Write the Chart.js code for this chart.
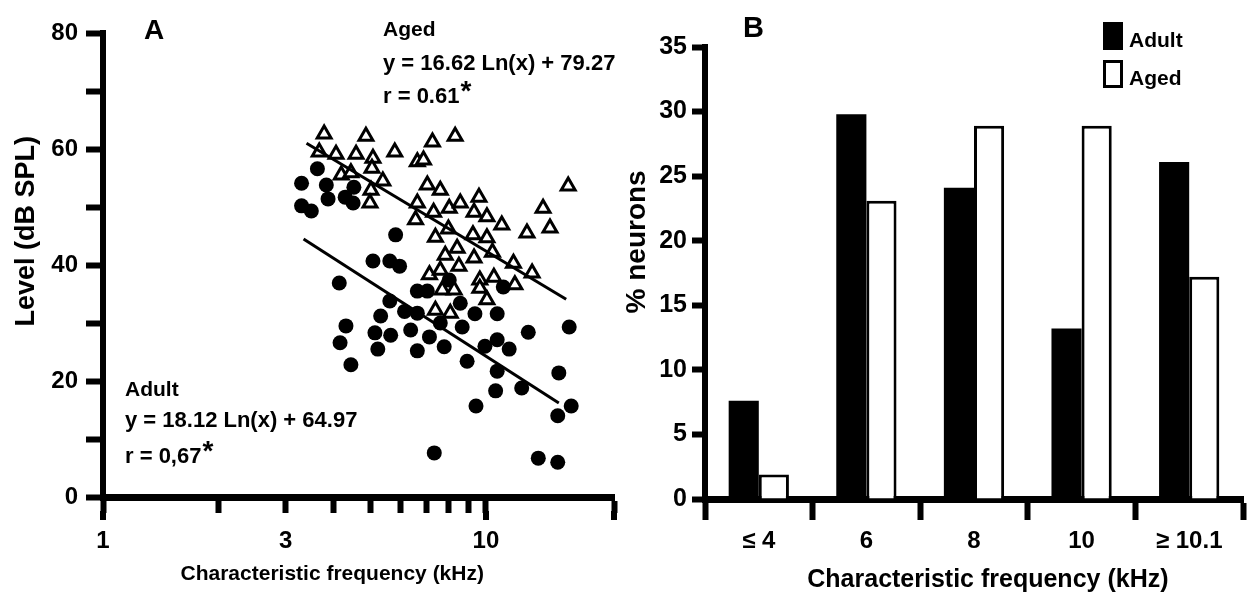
<!DOCTYPE html>
<html>
<head>
<title>Level and CF distribution</title>
<script src="https://cdn.jsdelivr.net/npm/chart.js"></script>
<style>
  body { margin: 0; background: #fff; }
  #wrap { position: relative; width: 1256px; height: 601px; }
  canvas { position: absolute; top: 0; }
  #chartA { left: 0; }
  #chartB { left: 620px; }
</style>
</head>
<body>
<div id="wrap">
  <canvas id="chartA" width="628" height="601"></canvas>
  <canvas id="chartB" width="636" height="601"></canvas>
</div>
<script>
// panel A: threshold level vs characteristic frequency
var adultCF = [3.30, 3.30, 3.50, 3.63, 3.83, 3.87, 4.29, 4.52, 4.50, 5.81,
  5.07, 5.61, 5.95, 4.14, 5.61, 6.62, 7.03, 8.02, 8.57, 6.13,
  6.62, 5.31, 7.60, 9.36, 10.7, 11.1, 4.31, 5.13, 5.64, 6.36,
  7.12, 8.67, 4.16, 5.22, 6.62, 7.78, 9.94, 10.7, 11.5, 12.9,
  16.5, 4.44, 8.93, 10.7, 15.5, 10.6, 12.4, 9.42, 16.7, 15.4,
  7.33, 13.7, 15.4];
var adultLevel = [54.1, 50.2, 49.3, 56.6, 53.8, 51.4, 51.7, 53.4, 50.7, 45.2,
  40.7, 40.7, 39.8, 36.9, 33.8, 35.5, 35.5, 37.4, 33.4, 32.0,
  31.7, 31.2, 30.0, 31.6, 31.6, 36.2, 29.5, 28.3, 27.9, 28.8,
  27.6, 29.3, 26.6, 25.5, 25.2, 25.9, 26.0, 27.1, 25.5, 28.4,
  29.3, 22.8, 23.4, 21.7, 21.4, 18.3, 18.8, 15.7, 15.7, 14.0,
  7.6, 6.7, 6.0];
var agedCF = [3.78, 4.86, 7.25, 8.31, 5.78, 3.67, 4.06, 4.58, 5.07, 6.62,
  6.87, 4.19, 4.44, 5.04, 5.38, 5.01, 4.98, 7.03, 7.60, 9.59,
  16.4, 6.62, 7.30, 8.02, 8.57, 9.31, 10.06, 14.1, 6.55, 11.0,
  12.8, 14.7, 7.98, 7.38, 9.25, 10.06, 10.4, 8.41, 7.83, 9.31,
  11.8, 13.2, 8.50, 7.12, 7.60, 9.64, 10.49, 11.9, 7.69, 8.26,
  9.64, 10.06, 7.38, 8.07];
var agedLevel = [62.6, 62.2, 61.2, 62.2, 59.5, 59.5, 59.1, 59.1, 58.4, 57.8,
  58.1, 55.5, 55.9, 56.7, 54.5, 52.9, 50.7, 53.8, 52.9, 51.7,
  53.6, 50.7, 49.1, 49.8, 50.7, 49.1, 48.3, 49.8, 47.8, 46.9,
  45.5, 46.4, 46.2, 44.8, 45.2, 44.7, 42.2, 42.9, 41.7, 41.2,
  40.3, 38.6, 39.8, 38.3, 39.1, 37.4, 37.9, 36.6, 35.7, 35.7,
  36.0, 34.0, 32.2, 31.7];
var adultFitCF = [3.34, 15.5];
var adultFitLevel = [44.5, 16.2];
var agedFitCF = [3.4, 16.2];
var agedFitLevel = [61.0, 34.1];
var xTicksA = [1, 2, 3, 4, 5, 6, 7, 8, 9, 10, 21.6];
var xLabelsA = [1, 3, 10];
var xMajorA = [1, 10, 21.6];

// panel B: % neurons per CF bin
var bins = ['\u2264 4', '6', '8', '10', '\u2265 10.1'];
var adultPct = [7.6, 29.8, 24.1, 13.2, 26.1];
var agedPct = [1.9, 23.1, 28.9, 28.9, 17.2];

var FONT = "'Liberation Sans', Arial, sans-serif";
Chart.defaults.font.family = FONT;
Chart.defaults.font.weight = 'bold';
Chart.defaults.color = '#000';

function pts(xs, ys) {
  return xs.map(function (x, i) { return { x: x, y: ys[i] }; });
}

// free text on the panels (panel letters, regression equations, legend)
var notes = {
  id: 'notes',
  afterDraw: function (chart, args, opts) {
    var ctx = chart.ctx;
    ctx.save();
    ctx.fillStyle = '#000';
    ctx.textBaseline = 'middle';
    (opts.items || []).forEach(function (t) {
      ctx.font = 'bold ' + t.size + 'px ' + FONT;
      ctx.fillText(t.text, t.x, t.y);
      if (t.star) {
        var w = ctx.measureText(t.text).width;
        ctx.font = 'bold ' + (t.size + 6) + 'px ' + FONT;
        ctx.fillText('*', t.x + w + 1, t.y - 5);
      }
    });
    ctx.restore();
  }
};

// longer tick marks at the decades of the log axis
var majorTicks = {
  id: 'majorTicks',
  afterDraw: function (chart) {
    var s = chart.scales.x, ctx = chart.ctx;
    ctx.save();
    ctx.fillStyle = '#000';
    xMajorA.forEach(function (v) {
      var px = s.getPixelForValue(v);
      ctx.fillRect(Math.round(px) - 3, s.top + 14, 6, 9);
    });
    ctx.restore();
  }
};

var boxLegend = {
  id: 'boxLegend',
  afterDraw: function (chart) {
    var ctx = chart.ctx;
    ctx.save();
    chart.data.datasets.forEach(function (d, i) {
      var y = 22 + i * 38;
      ctx.fillStyle = d.backgroundColor;
      ctx.fillRect(483, y, 20, 28);
      if (d.borderWidth) {
        ctx.strokeStyle = d.borderColor;
        ctx.lineWidth = 3;
        ctx.strokeRect(484.5, y + 1.5, 17, 25);
      }
      ctx.fillStyle = '#000';
      ctx.font = 'bold 21px ' + FONT;
      ctx.textBaseline = 'alphabetic';
      ctx.fillText(d.label, 509, y + 25);
    });
    ctx.restore();
  }
};

new Chart(document.getElementById('chartA'), {
  type: 'scatter',
  data: {
    datasets: [
      { type: 'line', data: pts(agedFitCF, agedFitLevel), borderColor: '#000', borderWidth: 3, pointRadius: 0, fill: false, order: 0 },
      { type: 'line', data: pts(adultFitCF, adultFitLevel), borderColor: '#000', borderWidth: 3, pointRadius: 0, fill: false, order: 0 },
      { label: 'Aged', data: pts(agedCF, agedLevel), pointStyle: 'triangle', pointRadius: 8,
        backgroundColor: '#fff', borderColor: '#000', borderWidth: 3, order: 1 },
      { label: 'Adult', data: pts(adultCF, adultLevel), pointStyle: 'circle', pointRadius: 7.5,
        backgroundColor: '#000', borderColor: '#000', borderWidth: 0, order: 2 }
    ]
  },
  options: {
    responsive: false,
    animation: false,
    layout: { padding: { top: 33, right: 10, left: 0, bottom: 0 } },
    plugins: {
      legend: { display: false },
      tooltip: { enabled: false },
      notes: {
        items: [
          { text: 'A', x: 144, y: 31, size: 28 },
          { text: 'Aged', x: 383, y: 30, size: 21 },
          { text: 'y = 16.62 Ln(x) + 79.27', x: 383, y: 64, size: 22 },
          { text: 'r = 0.61', x: 383, y: 97, size: 22, star: true },
          { text: 'Adult', x: 125, y: 390, size: 21 },
          { text: 'y = 18.12 Ln(x) + 64.97', x: 125, y: 421, size: 22 },
          { text: 'r = 0,67', x: 125, y: 457, size: 22, star: true }
        ]
      }
    },
    scales: {
      x: {
        type: 'logarithmic',
        min: 1,
        max: 21.6,
        afterFit: function (s) { s.height = 104; },
        afterBuildTicks: function (s) { s.ticks = xTicksA.map(function (v) { return { value: v }; }); },
        border: { display: true, color: '#000', width: 7 },
        grid: { drawOnChartArea: false, drawTicks: true, tickLength: 16, tickWidth: 6, tickColor: '#000' },
        ticks: {
          autoSkip: false, maxRotation: 0, padding: 14,
          font: { size: 24, weight: 'bold' },
          callback: function (v) { return xLabelsA.indexOf(v) >= 0 ? String(v) : ''; }
        },
        title: { display: true, text: 'Characteristic frequency (kHz)         ',
          font: { size: 21, weight: 'bold', lineHeight: 1 }, padding: { top: 0, bottom: 16 } }
      },
      y: {
        min: 0,
        max: 80,
        afterFit: function (s) { s.width = 103; },
        border: { display: true, color: '#000', width: 6 },
        grid: { drawOnChartArea: false, drawTicks: true, tickLength: 17, tickWidth: 6, tickColor: '#000' },
        ticks: {
          stepSize: 10, padding: 8,
          font: { size: 24, weight: 'bold' },
          callback: function (v) { return v % 20 === 0 ? String(v) : ''; }
        },
        title: { display: true, text: '         Level (dB SPL)',
          font: { size: 27, weight: 'bold', lineHeight: 1 }, padding: { top: 13, bottom: 0 } }
      }
    }
  },
  plugins: [notes, majorTicks]
});

new Chart(document.getElementById('chartB'), {
  type: 'bar',
  data: {
    labels: bins,
    datasets: [
      { label: 'Adult', data: adultPct, backgroundColor: '#000', borderWidth: 0,
        categoryPercentage: 0.56, barPercentage: 1.0 },
      { label: 'Aged', data: agedPct, backgroundColor: '#fff', borderColor: '#000', borderWidth: 3,
        borderSkipped: 'bottom', categoryPercentage: 0.56, barPercentage: 1.0 }
    ]
  },
  options: {
    responsive: false,
    animation: false,
    layout: { padding: { top: 47, right: 13, left: 0, bottom: 0 } },
    plugins: {
      legend: { display: false },
      tooltip: { enabled: false },
      notes: { items: [{ text: 'B', x: 123, y: 29, size: 29 }] }
    },
    scales: {
      x: {
        afterFit: function (s) { s.height = 102; },
        border: { display: true, color: '#000', width: 7 },
        grid: { offset: true, drawOnChartArea: false, drawTicks: true, tickLength: 21, tickWidth: 6, tickColor: '#000' },
        ticks: { padding: 7, maxRotation: 0, font: { size: 24, weight: 'bold' } },
        title: { display: true, text: '    Characteristic frequency (kHz)',
          font: { size: 25, weight: 'bold', lineHeight: 1 }, padding: { top: 0, bottom: 8 } }
      },
      y: {
        min: 0,
        max: 35,
        afterFit: function (s) { s.width = 85; },
        border: { display: true, color: '#000', width: 6 },
        grid: { drawOnChartArea: false, drawTicks: true, tickLength: 13, tickWidth: 6, tickColor: '#000' },
        ticks: { stepSize: 5, padding: 5, font: { size: 25, weight: 'bold' } },
        title: { display: true, text: '        % neurons',
          font: { size: 28, weight: 'bold', lineHeight: 1 }, padding: { top: 3, bottom: 0 } }
      }
    }
  },
  plugins: [notes, boxLegend]
});
</script>
</body>
</html>
